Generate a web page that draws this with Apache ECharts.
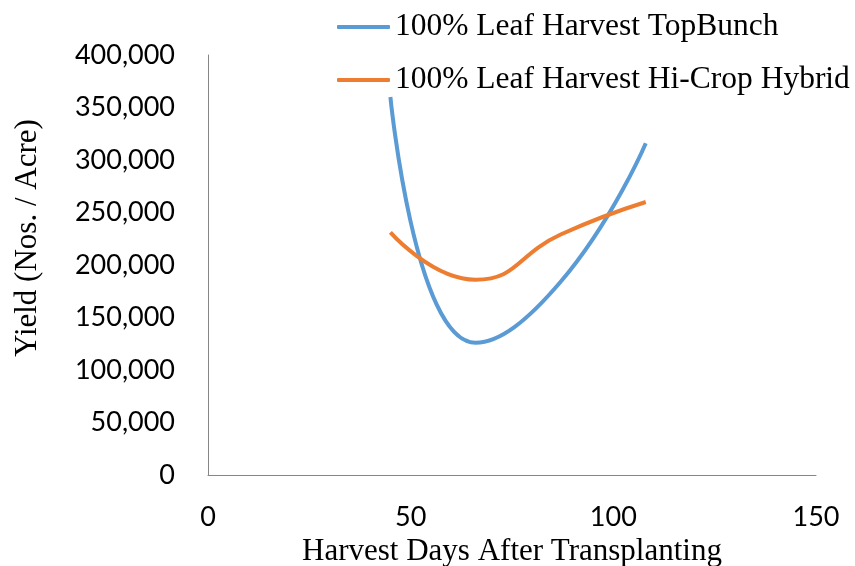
<!DOCTYPE html>
<html>
<head>
<meta charset="utf-8">
<script src="https://cdn.jsdelivr.net/npm/echarts@6/dist/echarts.min.js"></script>
<style>
  html, body { margin: 0; padding: 0; background: #fff; }
  #chart { width: 855px; height: 566px; }
</style>
</head>
<body>
<div id="chart"></div>
<script>
// harvest days after transplanting
var days = [45, 66, 87, 108];
// yield, nos. per acre
var topBunch = [360000, 126000, 184000, 316000];
var hiCrop = [231000, 186000, 229000, 260000];
var xTicks = [0, 50, 100, 150];
var yTicks = [0, 50000, 100000, 150000, 200000, 250000, 300000, 350000, 400000];

function pairs(xs, ys) {
  return xs.map(function (x, i) { return [x, ys[i]]; });
}

var chart = echarts.init(document.getElementById('chart'));
var serif = '"Liberation Serif", "Times New Roman", serif';
var sans = 'Lato, "Liberation Sans", sans-serif';

chart.setOption({
  animation: false,
  backgroundColor: '#fff',
  legend: {
    orient: 'vertical',
    left: 332,
    top: 6,
    icon: 'roundRect',
    itemWidth: 53,
    itemHeight: 4,
    itemGap: 21,
    textStyle: { fontFamily: serif, fontSize: 31.5, lineHeight: 30, color: '#000' },
    data: ['100% Leaf Harvest TopBunch', '100% Leaf Harvest Hi-Crop Hybrid']
  },
  grid: { left: 208, right: 39, top: 55, bottom: 91, outerBoundsMode: 'none' },
  xAxis: {
    type: 'value',
    min: xTicks[0],
    max: xTicks[xTicks.length - 1],
    interval: 50,
    name: 'Harvest Days After Transplanting',
    nameLocation: 'middle',
    nameGap: 52,
    nameTextStyle: { fontFamily: serif, fontSize: 31, color: '#000' },
    axisLine: { lineStyle: { color: '#868686', width: 1 } },
    axisTick: { show: false },
    splitLine: { show: false },
    axisLabel: { fontFamily: sans, fontSize: 27, color: '#000', margin: 29 }
  },
  yAxis: {
    type: 'value',
    min: yTicks[0],
    max: yTicks[yTicks.length - 1],
    interval: 50000,
    name: 'Yield (Nos. / Acre)',
    nameLocation: 'middle',
    nameGap: 165,
    nameTextStyle: { fontFamily: serif, fontSize: 31, color: '#000', padding: [0, 0, 0, 54] },
    axisLine: { show: true, lineStyle: { color: '#868686', width: 1 } },
    axisTick: { show: false },
    splitLine: { show: false },
    axisLabel: {
      fontFamily: sans, fontSize: 27, color: '#000', margin: 33,
      formatter: function (v) { return v.toLocaleString('en-US'); }
    }
  },
  series: [{
    name: '100% Leaf Harvest TopBunch',
    type: 'line',
    smooth: 0.5,
    symbol: 'none',
    lineStyle: { color: '#5B9BD5', width: 4 },
    itemStyle: { color: '#5B9BD5' },
    data: pairs(days, topBunch)
  }, {
    name: '100% Leaf Harvest Hi-Crop Hybrid',
    type: 'line',
    smooth: 0.5,
    symbol: 'none',
    lineStyle: { color: '#ED7D31', width: 4 },
    itemStyle: { color: '#ED7D31' },
    data: pairs(days, hiCrop)
  }]
});
</script>
</body>
</html>
